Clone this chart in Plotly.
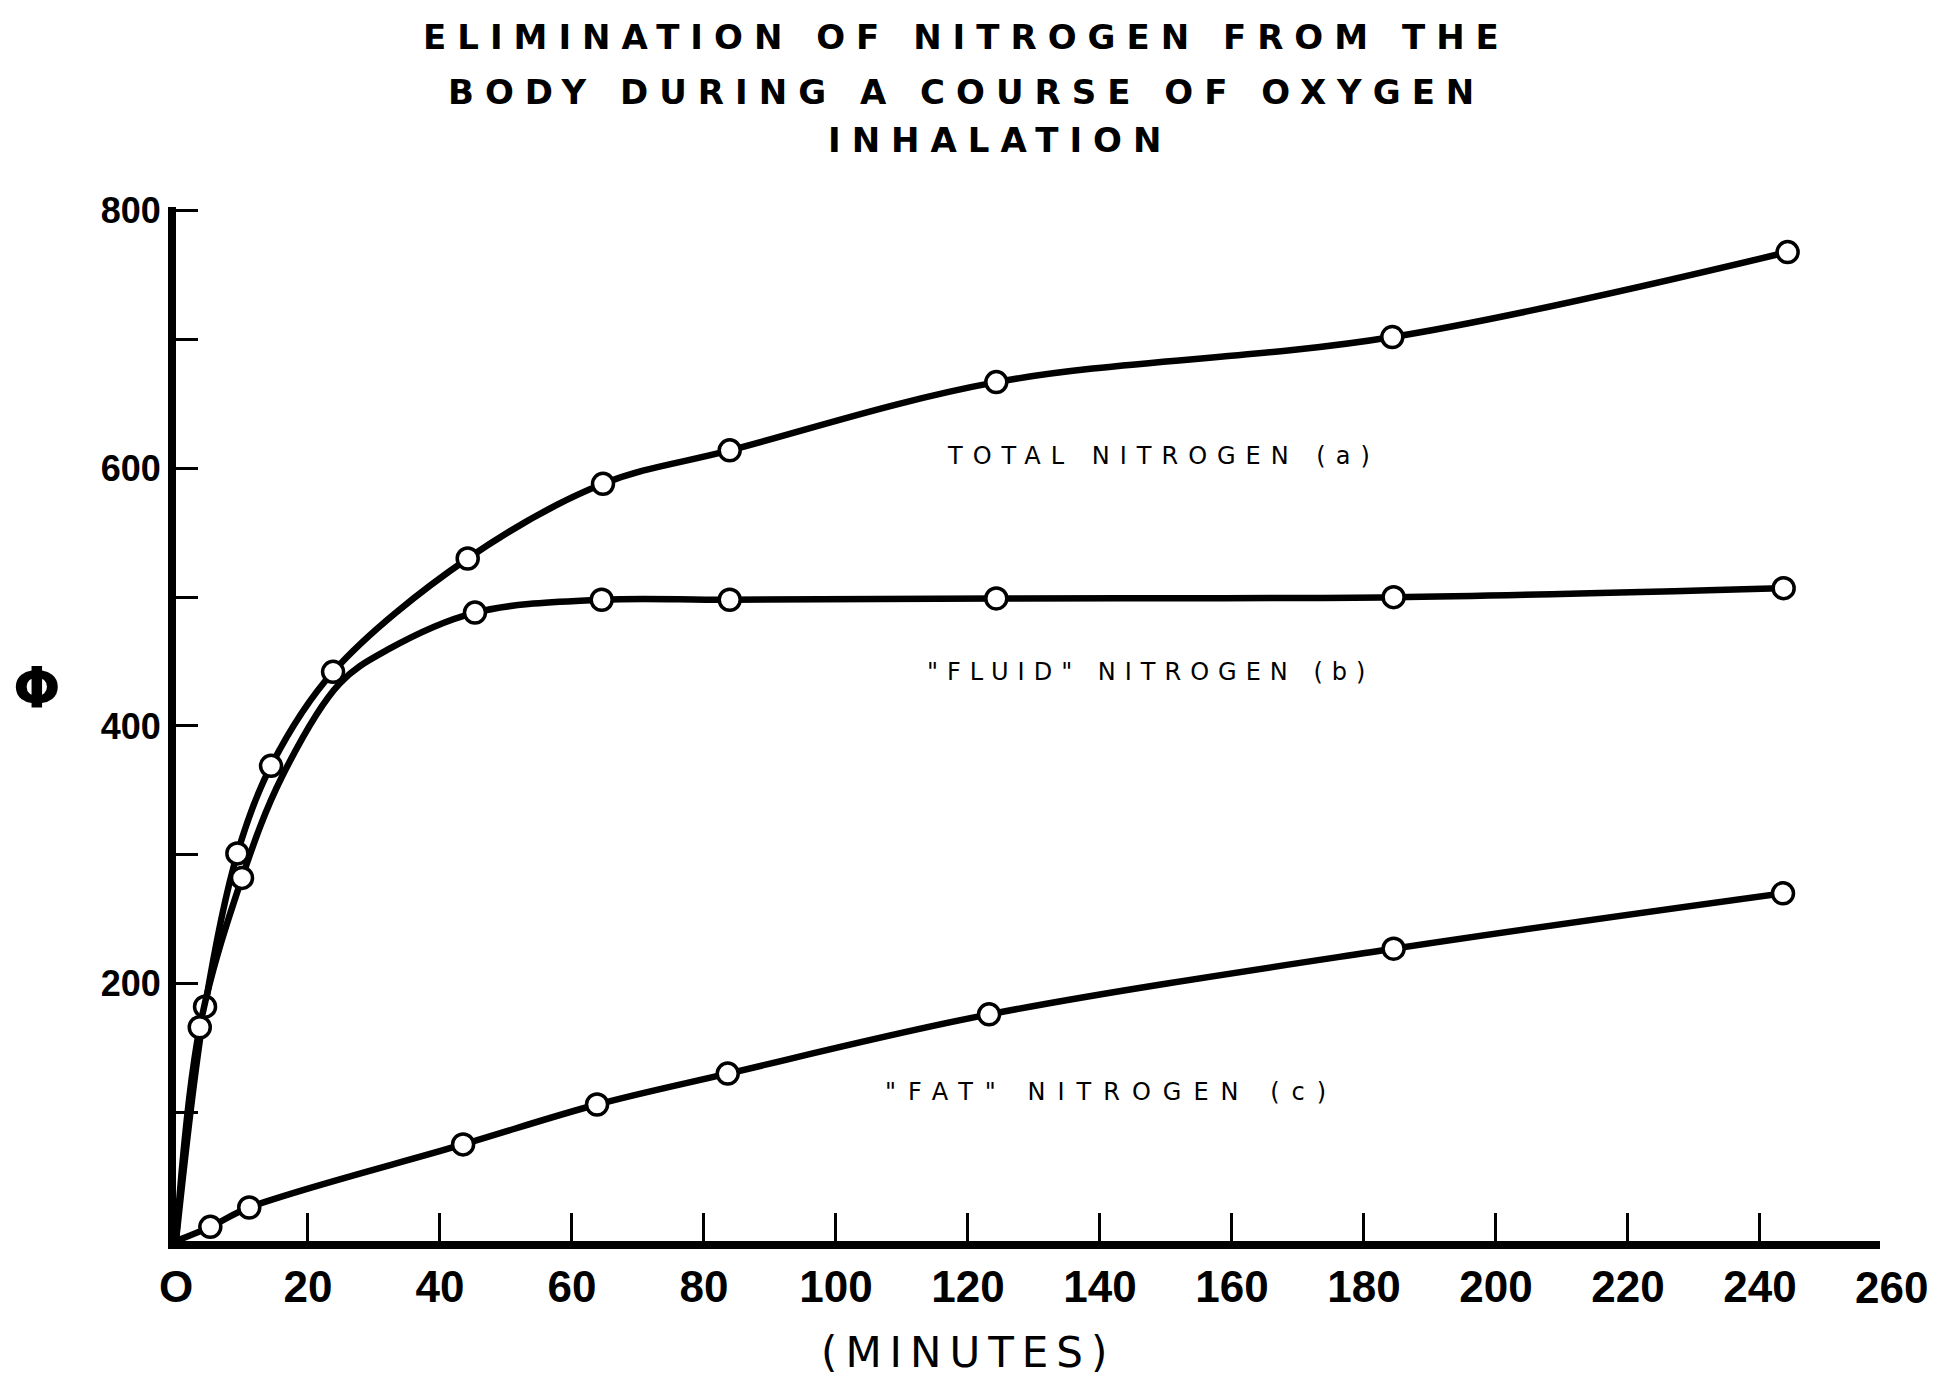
import plotly.graph_objects as go

# ---- data ----
total_t = [0, 4.4, 9.3, 14.4, 23.8, 44.2, 64.7, 83.9, 124.3, 184.3, 244.2]
total_v = [0, 182, 301, 369, 442, 530, 588, 614, 667, 702, 768]
total_marked = [False, True, True, True, True, True, True, True, True, True, True]

fluid_t = [0, 3.6, 10.0, 16.0, 24.8, 32.0, 45.3, 64.5, 83.9, 124.3, 184.5, 243.6]
fluid_v = [0, 166, 282, 360, 433, 459, 488, 498, 498, 499, 500, 507]
fluid_marked = [False, True, True, False, False, False, True, True, True, True, True, True]

fat_t = [0, 5.2, 11.1, 43.5, 63.8, 83.6, 123.2, 184.5, 243.5]
fat_v = [0, 11, 26, 75, 106, 130, 176, 227, 270]
fat_marked = [False, True, True, True, True, True, True, True, True]

x_tick_vals = [0, 20, 40, 60, 80, 100, 120, 140, 160, 180, 200, 220, 240]
x_tick_text = ["O", "20", "40", "60", "80", "100", "120", "140", "160", "180",
               "200", "220", "240"]
x_last_label_val = 260
x_last_label_text = "260"
y_tick_vals = [0, 100, 200, 300, 400, 500, 600, 700, 800]
y_tick_text = ["", "", "200", "", "400", "", "600", "", "800"]

title_lines = ["ELIMINATION OF NITROGEN FROM THE",
               "BODY DURING A COURSE OF OXYGEN",
               "INHALATION"]
series_labels = ["TOTAL NITROGEN (a)", "\"FLUID\" NITROGEN (b)", "\"FAT\" NITROGEN (c)"]
y_title = "Φ"
x_title = "(MINUTES)"

fig = go.Figure()

def add_series(t, v, marked):
    fig.add_trace(go.Scatter(
        x=t, y=v, mode="lines",
        line=dict(color="black", width=6.5, shape="spline", smoothing=1.0),
        hoverinfo="skip", showlegend=False))
    mt = [a for a, m in zip(t, marked) if m]
    mv = [b for b, m in zip(v, marked) if m]
    fig.add_trace(go.Scatter(
        x=mt, y=mv, mode="markers",
        marker=dict(symbol="circle", size=21, color="white",
                    line=dict(color="black", width=3.5)),
        showlegend=False))

add_series(total_t, total_v, total_marked)
add_series(fluid_t, fluid_v, fluid_marked)
add_series(fat_t, fat_v, fat_marked)

# geometry: 6.6 px per minute, plot area from x=176 px
L = 176
px_per_min = 6.6
axis_end = 258.2
plot_w = axis_end * px_per_min
R = 1946 - L - plot_w

tick_font = dict(family="Liberation Sans", size=44, color="black", weight="bold")

fig.update_layout(
    width=1946, height=1387,
    margin=dict(l=L, r=R, t=207, b=146),
    plot_bgcolor="white", paper_bgcolor="white",
    showlegend=False,
    xaxis=dict(range=[0, axis_end],
               showgrid=False, zeroline=False,
               showline=True, linecolor="black", linewidth=8,
               tickmode="array", tickvals=x_tick_vals, ticktext=x_tick_text,
               ticks="inside", ticklen=28, tickwidth=3, tickcolor="black",
               ticklabelstandoff=0, tickfont=tick_font),
    yaxis=dict(range=[0, 803], showgrid=False, zeroline=False,
               showline=True, linecolor="black", linewidth=8,
               tickmode="array", tickvals=y_tick_vals, ticktext=y_tick_text,
               ticks="inside", ticklen=22, tickwidth=3, tickcolor="black",
               tickfont=dict(family="Liberation Sans", size=36, color="black",
                             weight="bold")),
)

def px(fx):
    return (fx - L) / plot_w

# last x label, beyond the end of the axis line (paper coords so it is not hidden)
fig.add_annotation(x=x_last_label_val / axis_end, y=0, xref="paper", yref="paper",
                   showarrow=False, text=x_last_label_text, font=tick_font,
                   xanchor="center", yanchor="top", yshift=-20)

# title (three lines)
title_pos = [(px(967), 1.164), (px(967), 1.111), (px(1000), 1.065)]
for line, (tx, ty) in zip(title_lines, title_pos):
    fig.add_annotation(
        xref="paper", yref="paper", x=tx, y=ty, showarrow=False,
        text='<span style="letter-spacing:11px">' + line + "</span>",
        font=dict(family="DejaVu Sans", size=34, color="black", weight="bold"),
        xanchor="center", yanchor="middle")

# series labels
label_pos = [(149.7, 610), (147.6, 442), (141.7, 116)]
label_spacing = [10, 9, 12]
for lab, (lx, ly), sp in zip(series_labels, label_pos, label_spacing):
    fig.add_annotation(
        x=lx, y=ly, showarrow=False,
        text='<span style="letter-spacing:%dpx">' % sp + lab + "</span>",
        font=dict(family="DejaVu Sans", size=24, color="black"),
        xanchor="center", yanchor="middle")

# axis titles
fig.add_annotation(xref="paper", yref="paper", x=px(37), y=0.534,
                   showarrow=False, text=y_title,
                   font=dict(family="DejaVu Sans", size=56, color="black",
                             weight="bold"),
                   xanchor="center", yanchor="middle")
fig.add_annotation(xref="paper", yref="paper", x=px(968), y=-0.108,
                   showarrow=False,
                   text='<span style="letter-spacing:8px">' + x_title + "</span>",
                   font=dict(family="DejaVu Sans", size=42, color="black"),
                   xanchor="center", yanchor="middle")

fig.write_html("out.html")
